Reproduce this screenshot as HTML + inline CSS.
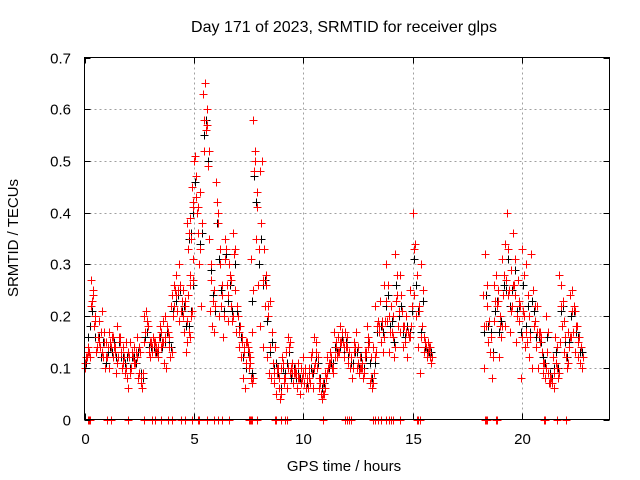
<!DOCTYPE html>
<html><head><meta charset="utf-8"><style>
body{margin:0;background:#fff;}
svg{display:block;font-family:"Liberation Sans",sans-serif;}
</style></head><body>
<svg id="chart" width="640" height="480" viewBox="0 0 640 480" xmlns="http://www.w3.org/2000/svg">
<rect width="640" height="480" fill="#fff"/>
<text x="344" y="32" font-size="16" text-anchor="middle">Day 171 of 2023, SRMTID for receiver glps</text>
<g id="grid"></g>
<g id="marks"></g>
<rect x="84.5" y="57.5" width="525" height="362" fill="none" stroke="#000" stroke-width="1"/>
<g id="axes"></g>
<text x="344" y="471" font-size="15" text-anchor="middle">GPS time / hours</text>
<text x="18" y="238" font-size="15" text-anchor="middle" transform="rotate(-90 18 238)">SRMTID / TECUs</text>
</svg>
<script>
const xTicks=[0,5,10,15,20];
const yTicks=[0,0.1,0.2,0.3,0.4,0.5,0.6,0.7];
const yTickLabels=["0","0.1","0.2","0.3","0.4","0.5","0.6","0.7"];
const segStart=[0,1,2,3,4,4.7,5.7,6.7,7.5,8.5,9.5,10.5,11.5,12.5,13.5,14.5,15.5,18.2,19.2,20.2,21.2,22.2];
const redA=[
[.10,.12,.13,.27,.25,.20,.16,.14,.21,.15],
[.15,.17,.14,.16,.13,.18,.15,.10,.12,.15],
[.06,.15,.12,.11,.16,.09,.07,.20,.21,.18],
[.12,.14,.15,.13,.16,.14,.19,.20,.17,.12],
[.24,.26,.28,.30,.21,.25,.22,.15,.16,.21],
[.38,.39,.45,.50,.43,.36,.44,.63,.65,.57],
[.35,.27,.25,.46,.38,.30,.24,.35,.26,.30],
[.22,.36,.25,.20,.18,.16,.14,.15,.10,.08],
[.13,.31,.58,.52,.41,.48,.50,.33,.26,.22],
[.23,.11,.14,.09,.06,.10,.08,.13,.16,.09],
[.11,.09,.06,.08,.10,.12,.09,.06,.07,.13],
[.16,.15,.08,.05,.07,.09,.12,.13,.10,.17],
[.14,.16,.18,.15,.17,.14,.13,.12,.15,.17],
[.11,.12,.10,.13,.18,.15,.08,.14,.22,.19],
[.23,.18,.26,.30,.20,.22,.16,.32,.24,.28],
[.21,.18,.20,.17,.25,.40,.34,.28,.21,.30],
[.16,.14,.15,.12],
[.24,.32,.22,.19,.16,.26,.28,.23,.20,.31],
[.34,.40,.25,.29,.36,.24,.27,.22,.33,.20],
[.30,.20,.32,.25,.19,.22,.17,.13,.11,.20],
[.09,.07,.12,.16,.10,.28,.26,.19,.12,.17],
[.24,.25,.21,.18,.16,.14]];
const redB=[
[.11,.14,.12,.23,.18,.13,.19,.17,.12,.10],
[.12,.10,.16,.14,.09,.12,.16,.14,.09,.08],
[.12,.10,.14,.13,.08,.13,.06,.15,.19,.13],
[.15,.16,.13,.14,.18,.15,.11,.10,.16,.22],
[.20,.25,.21,.19,.23,.17,.13,.24,.26,.31],
[.33,.28,.41,.51,.40,.30,.22,.52,.56,.49],
[.21,.18,.17,.42,.20,.22,.16,.31,.19,.28],
[.19,.32,.17,.14,.12,.08,.06,.15,.12,.07],
[.10,.17,.48,.35,.26,.18,.14,.22,.12,.09],
[.08,.07,.05,.10,.04,.12,.07,.06,.14,.10],
[.07,.10,.11,.05,.08,.07,.06,.10,.12,.06],
[.11,.10,.06,.04,.05,.08,.10,.11,.09,.12],
[.12,.13,.15,.12,.14,.11,.10,.08,.13,.10],
[.09,.10,.08,.12,.14,.07,.06,.09,.13,.17],
[.15,.13,.19,.19,.13,.17,.12,.23,.18,.17],
[.14,.15,.12,.16,.18,.24,.20,.14,.09,.18],
[.13,.12,.14,.11],
[.10,.18,.15,.13,.08,.19,.22,.12,.16,.24],
[.18,.24,.17,.22,.26,.15,.19,.08,.21,.14],
[.15,.12,.10,.18,.14,.10,.15,.09,.08,.13],
[.07,.08,.06,.11,.08,.15,.18,.13,.10,.14],
[.16,.17,.13,.12,.11,.10]];
const redC=[
[.12,.13,.22,.24,.19,.14,.15,.13,.17,.12],
[.14,.15,.12,.14,.11,.16,.13,.11,.10,.13],
[.09,.13,.11,.12,.14,.08,.09,.17,.18,.15],
[.13,.15,.14,.12,.17,.15,.16,.18,.14,.13],
[.22,.24,.25,.26,.20,.23,.19,.17,.20,.27],
[.36,.35,.42,.47,.41,.33,.38,.58,.60,.52],
[.30,.23,.22,.40,.33,.26,.20,.33,.24,.27],
[.20,.33,.22,.17,.15,.13,.11,.14,.11,.08],
[.12,.25,.50,.44,.33,.38,.27,.28,.20,.14],
[.17,.09,.10,.08,.05,.11,.08,.10,.15,.09],
[.09,.09,.08,.07,.09,.10,.08,.08,.09,.10],
[.13,.12,.07,.05,.06,.09,.11,.12,.10,.15],
[.13,.15,.17,.14,.16,.13,.12,.10,.14,.14],
[.10,.11,.09,.13,.16,.12,.07,.12,.18,.18],
[.19,.16,.23,.26,.17,.20,.14,.28,.21,.24],
[.18,.17,.17,.16,.22,.33,.28,.22,.16,.25],
[.15,.13,.14,.12],
[.18,.26,.19,.16,.12,.23,.25,.18,.18,.28],
[.27,.33,.21,.26,.31,.20,.23,.16,.28,.17],
[.24,.16,.25,.22,.17,.17,.16,.11,.10,.17],
[.08,.07,.09,.14,.09,.22,.23,.16,.11,.16],
[.21,.22,.18,.15,.14,.12]];
const blackV=[
[.11,.16,.18,.21,.16,.14,.16,.12,.15,.11],
[.13,.14,.13,.15,.12,.15,.12,.12,.11,.12],
[.10,.12,.12,.11,.13,.09,.08,.16,.17,.14],
[.14,.14,.13,.13,.16,.14,.15,.17,.15,.14],
[.21,.23,.24,.25,.21,.22,.18,.18,.21,.26],
[.35,.36,.40,.46,.40,.34,.36,.55,.58,.50],
[.29,.24,.21,.38,.31,.25,.21,.32,.23,.26],
[.21,.30,.21,.18,.16,.12,.10,.13,.11,.09],
[.11,.23,.47,.42,.30,.35,.26,.27,.19,.13],
[.15,.10,.11,.09,.06,.10,.09,.11,.13,.08],
[.10,.08,.09,.08,.08,.09,.07,.09,.10,.09],
[.12,.11,.08,.06,.07,.08,.10,.11,.11,.14],
[.13,.14,.16,.13,.15,.12,.11,.11,.13,.13],
[.10,.12,.10,.12,.15,.11,.08,.11,.17,.17],
[.18,.17,.22,.24,.18,.19,.15,.26,.20,.22],
[.17,.16,.18,.17,.21,.31,.26,.21,.17,.23],
[.14,.13,.13,.13],
[.17,.24,.18,.17,.13,.21,.23,.17,.19,.26],
[.25,.31,.22,.25,.29,.21,.22,.17,.26,.18],
[.22,.17,.23,.21,.16,.16,.15,.12,.11,.16],
[.09,.08,.10,.13,.10,.21,.22,.15,.12,.15],
[.20,.21,.17,.16,.13,.13]];
const zeroT=[0.15,0.2,0.25,1.05,1.2,2.0,2.7,3.1,3.2,3.5,3.8,4.0,4.4,4.6,4.9,5.2,5.25,5.6,5.9,6.1,6.3,6.6,7.5,7.55,7.6,7.65,7.9,8.7,8.75,9.0,9.15,9.25,10.9,11.9,12.0,12.1,12.2,13.2,13.3,13.4,13.55,13.8,13.9,14.0,14.1,14.4,15.2,15.25,15.35,18.3,18.35,18.4,18.8,18.85,21.0,21.05,21.6,22.0];

const X0=84.5,X1=609.5,Y0=419.5,Y1=57.5,XMAX=24,YMAX=0.7;
const sx=t=>X0+(X1-X0)*t/XMAX;
const sy=v=>Y0-(Y0-Y1)*v/YMAX;
const NS="http://www.w3.org/2000/svg";
const grid=document.getElementById('grid'),axes=document.getElementById('axes'),marks=document.getElementById('marks');
function mk(tag,attrs,parent){const e=document.createElementNS(NS,tag);for(const k in attrs)e.setAttribute(k,attrs[k]);parent.appendChild(e);return e;}
xTicks.forEach(t=>{const x=Math.round(sx(t))+0.5;
 if(t>0){const g=mk('line',{x1:x,x2:x,y1:Y1,y2:Y0,stroke:'#a0a0a0','stroke-dasharray':'2,3'},grid);
 
 }
 mk('line',{x1:x,x2:x,y1:Y0,y2:Y0-6,stroke:'#000'},axes);
 mk('line',{x1:x,x2:x,y1:Y1,y2:Y1+6,stroke:'#000'},axes);
 const l=mk('text',{x:x,y:444,'font-size':15,'text-anchor':'middle'},axes);l.textContent=t;
 
 
});
yTicks.forEach((v,i)=>{const y=Math.round(sy(v))+0.5;
 if(v>0&&v<YMAX){const g=mk('line',{x1:X0,x2:X1,y1:y,y2:y,stroke:'#a0a0a0','stroke-dasharray':'2,3'},grid);
 
 }
 mk('line',{x1:X0,x2:X0+6,y1:y,y2:y,stroke:'#000'},axes);
 mk('line',{x1:X1,x2:X1-6,y1:y,y2:y,stroke:'#000'},axes);
 const l=mk('text',{x:71,y:y+5,'font-size':15,'text-anchor':'end'},axes);l.textContent=yTickLabels[i];
 
 
});
function plus(t,v,color,name){const x=Math.round(sx(t))+0.5,y=Math.round(sy(v))+0.5;
 const p=mk('path',{d:`M${x-4} ${y}H${x+4}M${x} ${y-4}V${y+4}`,stroke:color,'stroke-width':1,fill:'none','shape-rendering':'crispEdges'},marks);
 
 
}
segStart.forEach((s,k)=>{blackV[k].forEach((v,i)=>plus(s+i*0.1+0.06,v,'#000','black-point'));});
segStart.forEach((s,k)=>{
 redA[k].forEach((v,i)=>plus(s+i*0.1,v,'#f00','red-point'));
 redB[k].forEach((v,i)=>plus(s+i*0.1+0.04,v,'#f00','red-point'));
 redC[k].forEach((v,i)=>plus(s+i*0.1+0.08,v,'#f00','red-point'));});
zeroT.forEach(t=>plus(t,0,'#f00','zero-point'));
</script>
</body></html>
